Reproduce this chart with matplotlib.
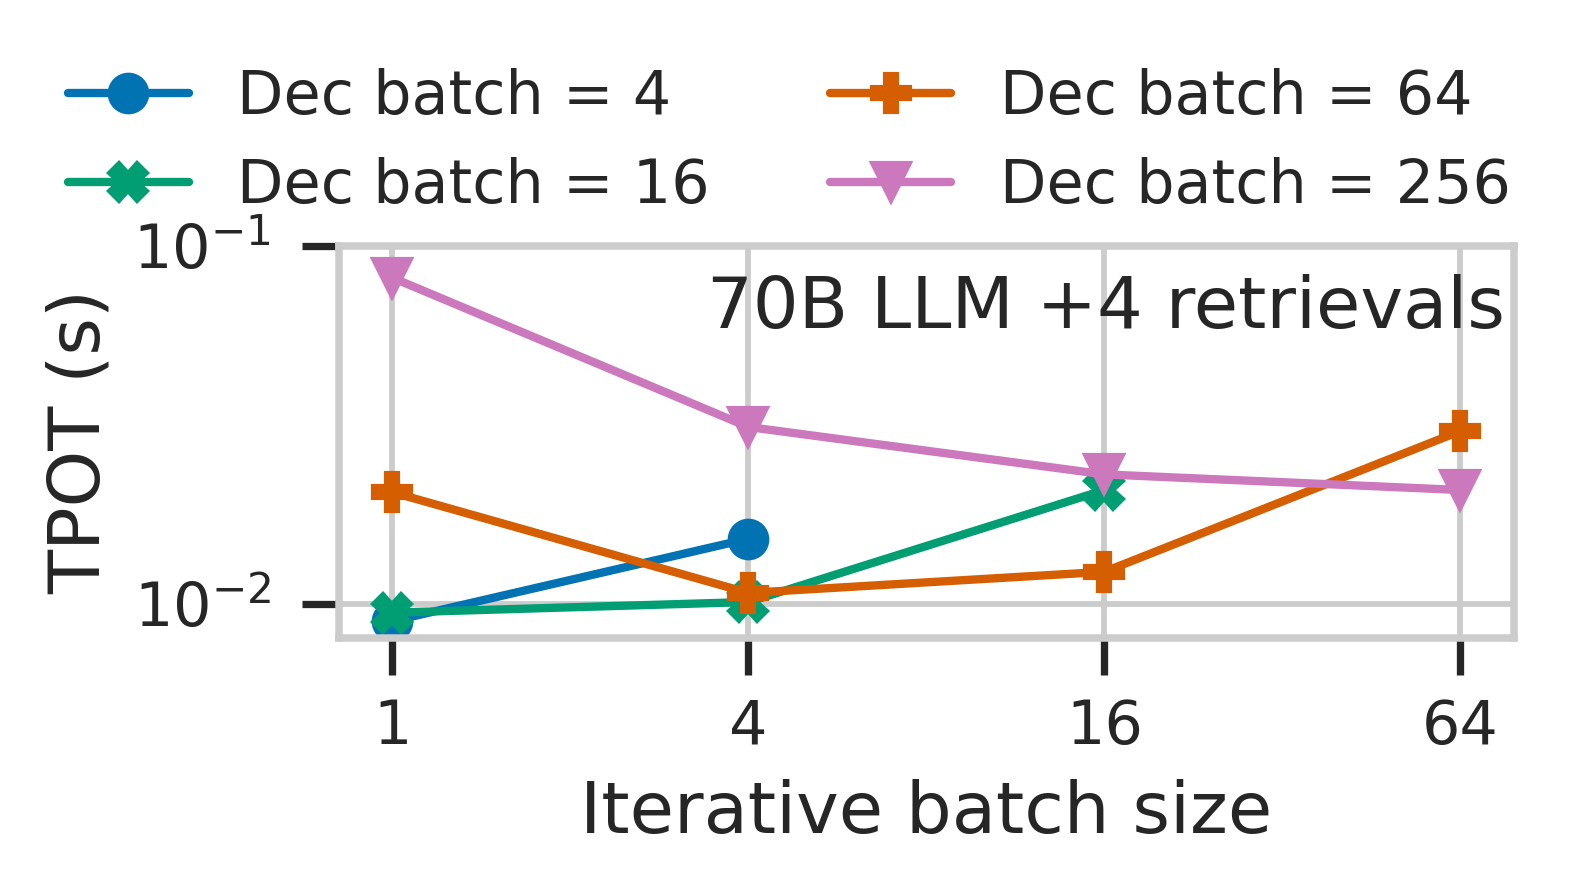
import matplotlib
matplotlib.use("Agg")
import matplotlib.pyplot as plt
from matplotlib.ticker import NullLocator
import seaborn as sns

# data
iter_batch = [1, 4, 16, 64]
tpot_dec4 = [0.00895, 0.0152]
tpot_dec16 = [0.00945, 0.01012, 0.0208]
tpot_dec64 = [0.0205, 0.01073, 0.01229, 0.0304]
tpot_dec256 = [0.0815, 0.0312, 0.0230, 0.0208]

labels = ["Dec batch = 4", "Dec batch = 16", "Dec batch = 64", "Dec batch = 256"]
markers = ["o", "X", "P", "v"]

sns.set_theme(style="whitegrid")
plt.rcParams["font.family"] = ["DejaVu Sans"]

palette = sns.color_palette("colorblind")
colors = [palette[0], palette[2], palette[3], palette[4]]

fig = plt.figure(figsize=(5.25, 892 / 300), dpi=300)
ax = fig.add_axes([0.2152, 0.2848, 0.746, 0.4395])

series = [tpot_dec4, tpot_dec16, tpot_dec64, tpot_dec256]
handles = []
for vals, lab, mk, col in zip(series, labels, markers, colors):
    h, = ax.plot(iter_batch[:len(vals)], vals, marker=mk, color=col, label=lab,
                 linewidth=2, markersize=9, solid_capstyle="round")
    handles.append(h)

ax.set_xscale("log", base=2)
ax.set_yscale("log")
ax.set_xticks(iter_batch)
ax.set_xticklabels([str(v) for v in iter_batch])
ax.xaxis.set_minor_locator(NullLocator())
ax.yaxis.set_minor_locator(NullLocator())
ax.set_ylim(0.00803, 0.1)

ax.tick_params(axis="both", which="major", direction="out", length=8.8, width=1.75,
               color="#262626", labelsize=14.5, labelcolor="#262626",
               bottom=True, left=True)
ax.tick_params(axis="x", pad=5.5)
ax.tick_params(axis="y", pad=7.5)
for sp in ax.spines.values():
    sp.set_color("#cccccc")
    sp.set_linewidth(1.8)
ax.grid(True, color="#cccccc", linewidth=1.4)

ax.set_xlabel("Iterative batch size", fontsize=17.3, color="#262626", labelpad=5.5)
ax.set_ylabel("TPOT (s)", fontsize=17.3, color="#262626", labelpad=4.5)

ax.text(0.992, 0.79, "70B LLM +4 retrievals", transform=ax.transAxes,
        ha="right", va="baseline", fontsize=17.3, color="#262626")

fig.legend(handles=handles, loc="upper center", bbox_to_anchor=(0.501, 0.985), ncol=2,
           frameon=False, fontsize=14.5, columnspacing=2.0, handletextpad=0.8,
           handlelength=2.0, labelspacing=0.5)

fig.savefig("out.png", dpi=300)
